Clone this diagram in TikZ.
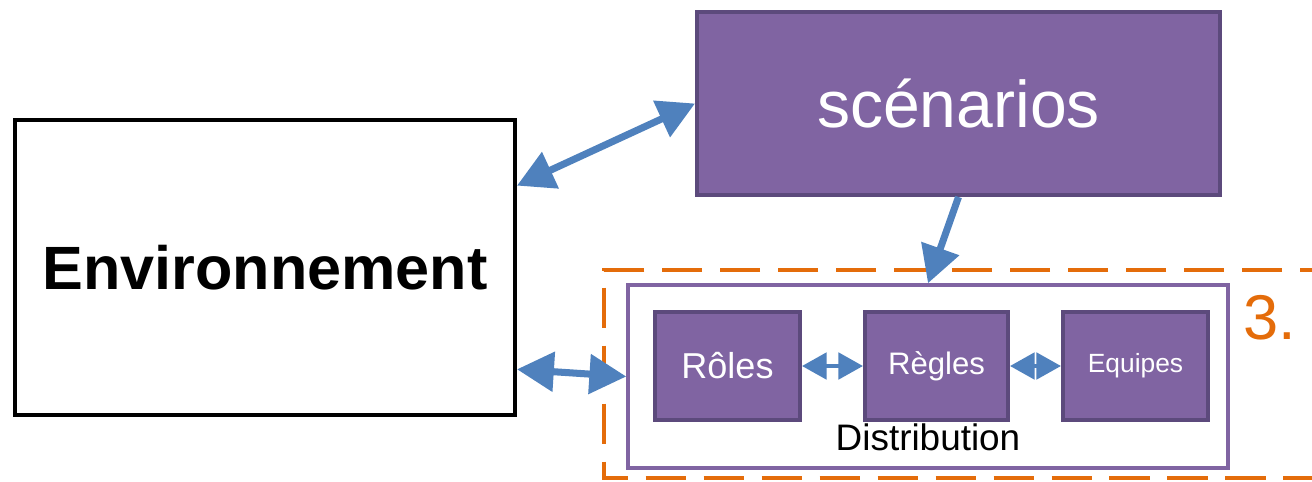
\documentclass[tikz,border=0pt]{standalone}
\usepackage{fontspec}
\setmainfont{Liberation Sans}
\usetikzlibrary{arrows.meta}

\definecolor{boxpurple}{HTML}{8064A2}
\definecolor{boxedge}{HTML}{5C4A7C}
\definecolor{linkblue}{HTML}{4F81BD}
\definecolor{zoneorange}{HTML}{E46C0A}

\tikzset{
    purplebox/.style={draw=boxedge, fill=boxpurple, line width=2.3pt, text=white, inner sep=0pt},
    smallbox/.style={purplebox, minimum width=2.9cm, minimum height=2.16cm},
    biglink/.style={{Triangle[length=21pt,width=22pt]}-{Triangle[length=21pt,width=22pt]}, linkblue, line width=4pt},
    onelink/.style={-{Triangle[length=21pt,width=22pt]}, linkblue, line width=4pt},
    smalllink/.style={{Triangle[length=14pt,width=15pt]}-{Triangle[length=14pt,width=15pt]}, linkblue, line width=2.3pt}
}

\begin{document}
\begin{tikzpicture}[x=0.02cm, y=-0.02cm]

    % ---- Frame ----
    \useasboundingbox (0,0) rectangle (1312,481);

    % ---- Zone 3 (orange, dashed) ----
    \begin{scope}
        \clip (0,0) rectangle (1312,481);
        \draw[zoneorange, line width=2.3pt, dash pattern=on 23pt off 10pt]
            (1340,270) -- (604,270) -- (604,478) -- (1340,478);
    \end{scope}
    \node[zoneorange, font=\fontsize{36}{40}\selectfont] (num) at (1270,318) {3.};

    % ---- Environnement ----
    \node[draw, line width=2.3pt, fill=white, minimum width=10cm, minimum height=5.9cm,
        font=\fontsize{34.8}{40}\selectfont\bfseries] (env) at (265,267.5) {Environnement};

    % ---- scenarios ----
    \node[purplebox, minimum width=10.46cm, minimum height=3.66cm,
        font=\fontsize{37.6}{42}\selectfont] (scen) at (958.5,103.5) {scénarios};

    % ---- Distribution ----
    \node[draw=boxpurple, line width=2pt, fill=white, minimum width=12cm, minimum height=3.66cm]
        (dist) at (928,376.5) {};
    \node[font=\fontsize{21}{24}\selectfont] (distlabel) at (928,437) {Distribution};

    \node[smallbox, font=\fontsize{20.5}{24}\selectfont] (roles) at (727.5,366) {Rôles};
    \node[smallbox, minimum width=2.86cm, font=\fontsize{17.7}{20}\selectfont] (regles) at (936.5,366) {Règles};
    \node[smallbox, font=\fontsize{15}{18}\selectfont] (equipes) at (1135.5,366) {Equipes};

    % ---- Links ----
    \draw[biglink] (env.18) -- (scen.west);
    \draw[biglink] (env.-22) -- (dist.west);
    \draw[onelink] (scen.south) -- (dist.north);
    \draw[smalllink] (roles.east) -- (regles.west);
    \draw[smalllink] (regles.east) -- (equipes.west);

\end{tikzpicture}
\end{document}
